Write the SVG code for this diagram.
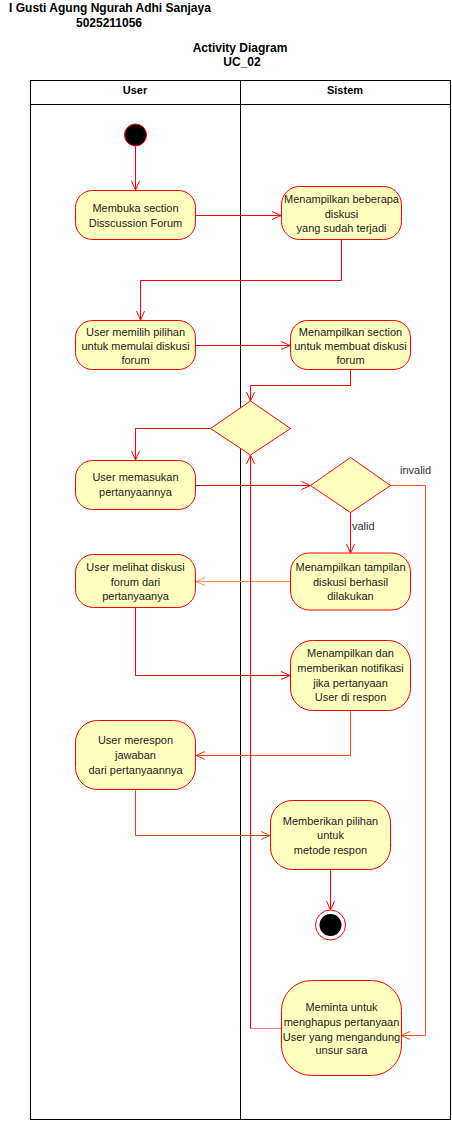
<svg xmlns="http://www.w3.org/2000/svg" width="452" height="1121" viewBox="0 0 452 1121">
<defs>
<style>
text{font-family:"Liberation Sans",Arial,sans-serif;font-size:11px;fill:#222;text-anchor:middle}
.b{font-weight:bold;font-size:12px;fill:#000}
.h{font-weight:bold;font-size:11px;fill:#000}
.lbl{text-anchor:start;fill:#333}
.node{fill:#FFFFC0;stroke:#FF0000;stroke-width:1}
.dia{fill:#FFFFC0;stroke:#FF0000;stroke-width:1}
.c{fill:none;stroke:#FF0000;stroke-width:1}
.lane{fill:none;stroke:#000;stroke-width:1}
</style>
<marker id="ar" viewBox="0 0 10 10" refX="10" refY="5" markerWidth="10" markerHeight="10" markerUnits="userSpaceOnUse" orient="auto">
<path d="M1,1 L10,5 L1,9" fill="none" stroke="#FF0000" stroke-width="1"/>
</marker>
<marker id="ar2" viewBox="0 0 10 10" refX="10" refY="5" markerWidth="10" markerHeight="10" markerUnits="userSpaceOnUse" orient="auto">
<path d="M1,1 L10,5 L1,9" fill="none" stroke="#FF8A5C" stroke-width="1"/>
</marker>
<marker id="ar3" viewBox="0 0 10 10" refX="10" refY="5" markerWidth="10" markerHeight="10" markerUnits="userSpaceOnUse" orient="auto">
<path d="M1,1 L10,5 L1,9" fill="none" stroke="#FF4411" stroke-width="1"/>
</marker>
<marker id="ar4" viewBox="0 0 10 10" refX="10" refY="5" markerWidth="10" markerHeight="10" markerUnits="userSpaceOnUse" orient="auto">
<path d="M1,1 L10,5 L1,9" fill="none" stroke="#DD4411" stroke-width="1"/>
</marker>
</defs>
<rect width="452" height="1121" fill="#fff"/>
<g id="title">
<text class="b" x="110" y="12">I Gusti Agung Ngurah Adhi Sanjaya</text>
<text class="b" x="109" y="27">5025211056</text>
<text class="b" x="240" y="52">Activity Diagram</text>
<text class="b" x="242" y="66">UC_02</text>
</g>
<g id="pool">
<rect class="lane" x="30.5" y="80.5" width="420" height="1039"/>
<line class="lane" x1="30.5" y1="104.5" x2="450.5" y2="104.5"/>
<line class="lane" x1="240.5" y1="80.5" x2="240.5" y2="1119.5"/>
<text class="h" x="135" y="94">User</text>
<text class="h" x="345" y="94">Sistem</text>
</g>
<g id="connectors">
<path class="c" d="M135.5,146 V190" marker-end="url(#ar)"/>
<path class="c" d="M196,215.5 H281" marker-end="url(#ar)"/>
<path class="c" d="M341.5,240 V280.5 H140.5 V320" marker-end="url(#ar)"/>
<path class="c" d="M196,345.5 H290" marker-end="url(#ar)"/>
<path class="c" d="M350.5,370 V385.5 H250.5 V401" marker-end="url(#ar)"/>
<path class="c" d="M210,428.5 H135.5 V460" marker-end="url(#ar)"/>
<path class="c" d="M196,485.5 H310.5" marker-end="url(#ar)"/>
<path class="c" d="M350.5,512.5 V553" marker-end="url(#ar)"/>
<path class="c" d="M390.5,485.5 H425.5 V1035.5 H401" style="stroke:#FF5522" marker-end="url(#ar3)"/>
<path class="c" d="M290,581.5 H196" style="stroke:#FF8A5C" marker-end="url(#ar2)"/>
<path class="c" d="M135.5,608 V675.5 H290" marker-end="url(#ar)"/>
<path class="c" d="M350.5,710 V755.5 H196" style="stroke:#FF4411" marker-end="url(#ar3)"/>
<path class="c" d="M135.5,790 V835.5 H270" style="stroke:#DD4411" marker-end="url(#ar4)"/>
<path class="c" d="M330.5,870 V910" marker-end="url(#ar)"/>
<path class="c" d="M281,1028.5 H250.5" style="stroke:#FF7777"/>
<path class="c" d="M250.5,1028.5 V455" marker-end="url(#ar)"/>
<text class="lbl" x="400" y="474">invalid</text>
<text class="lbl" x="352" y="530">valid</text>
</g>
<g id="start"><circle cx="135.5" cy="135" r="11" fill="#000" stroke="#FF0000"/></g>
<g id="n1"><rect class="node" x="75.5" y="190.5" width="120" height="49" rx="17"/>
<text x="135.5" y="212">Membuka section</text><text x="135.5" y="227">Disscussion Forum</text></g>
<g id="n2"><rect class="node" x="281.5" y="186.5" width="120" height="53" rx="18"/>
<text x="341.5" y="203">Menampilkan beberapa</text><text x="341.5" y="217.5">diskusi</text><text x="341.5" y="232">yang sudah terjadi</text></g>
<g id="n3"><rect class="node" x="75.5" y="320.5" width="120" height="49" rx="17"/>
<text x="135.5" y="335.5">User memilih pilihan</text><text x="135.5" y="349.5">untuk memulai diskusi</text><text x="135.5" y="364">forum</text></g>
<g id="n4"><rect class="node" x="290.5" y="320.5" width="120" height="49" rx="17"/>
<text x="350.5" y="335.5">Menampilkan section</text><text x="350.5" y="349.5">untuk membuat diskusi</text><text x="350.5" y="364">forum</text></g>
<g id="d1"><path class="dia" d="M250.5,401 L290.5,428.5 L250.5,455 L210.5,428.5 Z"/></g>
<g id="n5"><rect class="node" x="75.5" y="460.5" width="120" height="49" rx="17"/>
<text x="135.5" y="481">User memasukan</text><text x="135.5" y="496">pertanyaannya</text></g>
<g id="d2"><path class="dia" d="M350.5,457.5 L390.5,485.5 L350.5,512.5 L310.5,485.5 Z"/></g>
<g id="n6"><rect class="node" x="290.5" y="553" width="120" height="57" rx="19"/>
<text x="350.5" y="571">Menampilkan tampilan</text><text x="350.5" y="585.5">diskusi berhasil</text><text x="350.5" y="600">dilakukan</text></g>
<g id="n7"><rect class="node" x="75.5" y="554.5" width="120" height="53" rx="18"/>
<text x="135.5" y="571">User melihat diskusi</text><text x="135.5" y="585.5">forum dari</text><text x="135.5" y="600">pertanyaanya</text></g>
<g id="n8"><rect class="node" x="290.5" y="640.5" width="120" height="70" rx="22"/>
<text x="350.5" y="657">Menampilkan dan</text><text x="350.5" y="671.5">memberikan notifikasi</text><text x="350.5" y="686.5">jika pertanyaan</text><text x="350.5" y="700.5">User di respon</text></g>
<g id="n9"><rect class="node" x="75.5" y="720.5" width="120" height="69" rx="22"/>
<text x="135.5" y="744">User merespon</text><text x="135.5" y="759">jawaban</text><text x="135.5" y="773.5">dari pertanyaannya</text></g>
<g id="n10"><rect class="node" x="270.5" y="800.5" width="120" height="69" rx="22"/>
<text x="330.5" y="824.5">Memberikan pilihan</text><text x="330.5" y="839">untuk</text><text x="330.5" y="854">metode respon</text></g>
<g id="end"><circle cx="330.5" cy="925" r="15" fill="#fff" stroke="#FF0000"/><circle cx="330.5" cy="925" r="11" fill="#000"/></g>
<g id="n11"><rect class="node" x="281.5" y="980.5" width="120" height="95" rx="30"/>
<text x="341.5" y="1011">Meminta untuk</text><text x="341.5" y="1025.5">menghapus pertanyaan</text><text x="341.5" y="1040.5">User yang mengandung</text><text x="341.5" y="1054">unsur sara</text></g>
</svg>
